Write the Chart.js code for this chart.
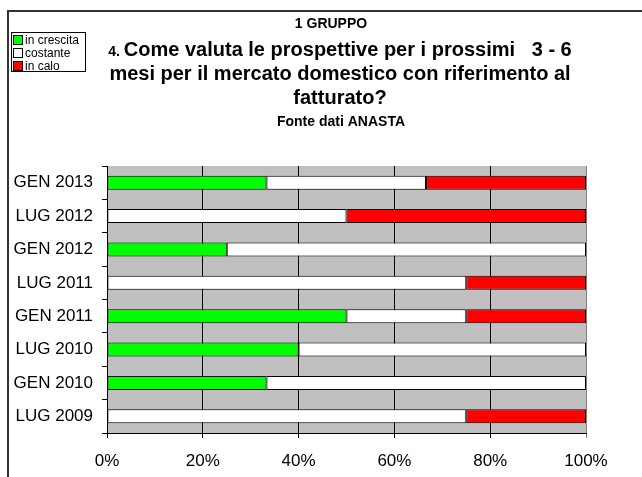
<!DOCTYPE html>
<html>
<head>
<meta charset="utf-8">
<script src="https://cdn.jsdelivr.net/npm/chart.js@4"></script>
<style>
  html, body { margin: 0; padding: 0; background: #fff; }
  #c { display: block; }
</style>
</head>
<body>
<canvas id="c" width="642" height="477"></canvas>
<script>
// data (percent of answers)
const categories = ['GEN 2013', 'LUG 2012', 'GEN 2012', 'LUG 2011', 'GEN 2011', 'LUG 2010', 'GEN 2010', 'LUG 2009'];
const inCrescita = [33.3, 0, 25, 0, 50, 40, 33.3, 0];
const costante   = [33.3, 50, 75, 75, 25, 60, 66.7, 75];
const inCalo     = [33.4, 50, 0, 25, 25, 0, 0, 25];
const seriesNames = ['in crescita', 'costante', 'in calo'];
const xTicks = [0, 20, 40, 60, 80, 100];

const FONT = 'Liberation Sans, Arial, sans-serif';

// white page, frame, grey plot background
const backdrop = {
    id: 'backdrop',
    beforeDraw(chart) {
        const ctx = chart.ctx, a = chart.chartArea;
        ctx.save();
        ctx.fillStyle = '#fff';
        ctx.fillRect(0, 0, chart.width, chart.height);
        ctx.strokeStyle = '#333';
        ctx.lineWidth = 2;
        ctx.beginPath();
        ctx.moveTo(8, chart.height);
        ctx.lineTo(8, 11);
        ctx.lineTo(chart.width, 11);
        ctx.stroke();
        ctx.fillStyle = '#c0c0c0';
        ctx.fillRect(a.left, a.top, a.right - a.left, a.bottom - a.top);
        ctx.restore();
    }
};

// titles and the little legend box in the top-left corner
const texts = {
    id: 'texts',
    afterDraw(chart) {
        const ctx = chart.ctx;
        ctx.save();
        ctx.fillStyle = '#000';
        ctx.textBaseline = 'alphabetic';
        ctx.textAlign = 'center';
        ctx.font = 'bold 14px ' + FONT;
        ctx.fillText('1 GRUPPO', 331, 28);

        // first line: small "4." then the question
        const lead = '4. ';
        const rest = 'Come valuta le prospettive per i prossimi   3 - 6';
        ctx.font = 'bold 14px ' + FONT;
        const wLead = ctx.measureText(lead).width;
        ctx.font = 'bold 20px ' + FONT;
        const wRest = ctx.measureText(rest).width;
        let x0 = 340 - (wLead + wRest) / 2;
        ctx.textAlign = 'left';
        ctx.font = 'bold 14px ' + FONT;
        ctx.fillText(lead, x0, 56);
        ctx.font = 'bold 20px ' + FONT;
        ctx.fillText(rest, x0 + wLead, 56);
        ctx.textAlign = 'center';
        ctx.fillText('mesi per il mercato domestico con riferimento al', 340, 80);
        ctx.fillText('fatturato?', 340, 104);
        ctx.font = 'bold 14px ' + FONT;
        ctx.fillText('Fonte dati ANASTA', 341, 126);

        // legend
        ctx.lineWidth = 1;
        ctx.strokeStyle = '#000';
        ctx.fillStyle = '#fff';
        ctx.fillRect(11.5, 32.5, 74, 39);
        ctx.strokeRect(11.5, 32.5, 74, 39);
        ctx.font = '12px ' + FONT;
        ctx.textAlign = 'left';
        ctx.textBaseline = 'middle';
        chart.data.datasets.forEach((ds, i) => {
            const y = 40 + i * 13;
            ctx.fillStyle = ds.backgroundColor;
            ctx.fillRect(13.5, y - 4.5, 9, 9);
            ctx.strokeRect(13.5, y - 4.5, 9, 9);
            ctx.fillStyle = '#000';
            ctx.fillText(ds.label, 25, y + 1);
        });
        ctx.restore();
    }
};

const ctx = document.getElementById('c').getContext('2d');
const chart = new Chart(ctx, {
    type: 'bar',
    data: {
        labels: categories,
        datasets: [
            { label: seriesNames[0], data: inCrescita, backgroundColor: '#00ff00' },
            { label: seriesNames[1], data: costante, backgroundColor: '#ffffff' },
            { label: seriesNames[2], data: inCalo, backgroundColor: '#ff0000' }
        ].map(ds => Object.assign(ds, {
            borderColor: '#000',
            borderWidth: 1,
            borderSkipped: false,
            barPercentage: 0.42,
            categoryPercentage: 1
        }))
    },
    options: {
        indexAxis: 'y',
        responsive: false,
        animation: false,
        layout: { padding: { top: 166, right: 56, left: 0, bottom: 0 } },
        scales: {
            x: {
                stacked: true,
                min: 0,
                max: 100,
                afterBuildTicks: s => { s.ticks = xTicks.map(v => ({ value: v })); },
                afterFit: s => { s.height = 44; },
                ticks: {
                    callback: v => v + '%',
                    color: '#000',
                    font: { family: FONT, size: 17 },
                    padding: 13,
                    maxRotation: 0
                },
                grid: {
                    color: ctx => ctx.index === xTicks.length - 1 ? '#808080' : '#000',
                    lineWidth: 1,
                    tickLength: 5,
                    drawTicks: true
                },
                border: { color: '#000', width: 1 }
            },
            y: {
                stacked: true,
                afterFit: s => { s.width = 107; },
                ticks: {
                    color: '#000',
                    font: { family: FONT, size: 17 },
                    padding: 9
                },
                grid: {
                    drawOnChartArea: false,
                    color: '#000',
                    tickLength: 5
                },
                border: { color: '#000', width: 1 }
            }
        },
        plugins: {
            legend: { display: false },
            tooltip: { enabled: false }
        }
    },
    plugins: [backdrop, texts]
});
</script>
</body>
</html>
